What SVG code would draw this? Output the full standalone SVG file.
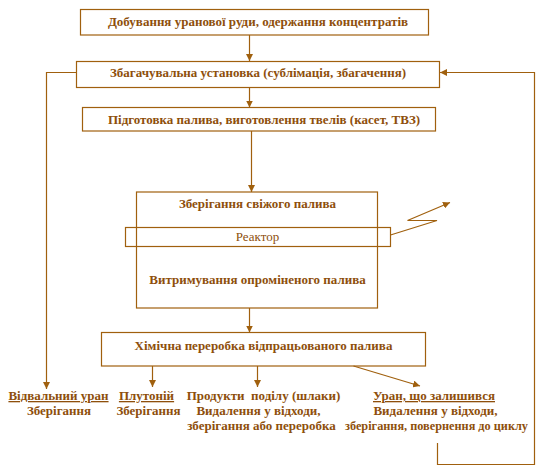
<svg xmlns="http://www.w3.org/2000/svg" width="543" height="468" viewBox="0 0 543 468">
<defs>
<style>
.box{fill:none;stroke:#A0600E;stroke-width:1.2}
.ln{fill:none;stroke:#A0600E;stroke-width:1.2}
.t{font-family:"Liberation Serif","Times New Roman",serif;font-size:13px;font-weight:bold;fill:#8E4F0C;text-anchor:middle}
.r{font-weight:normal}
.u{text-decoration:underline}
</style>
<marker id="ah" viewBox="0 0 10 10" refX="10" refY="5" markerWidth="7" markerHeight="7" markerUnits="userSpaceOnUse" orient="auto">
<path d="M0,0 L10,5 L0,10 z" fill="#A0600E"/>
</marker>
</defs>
<rect width="543" height="468" fill="#fff"/>
<g id="n1"><rect class="box" x="80.5" y="9.5" width="348" height="25.5"/><text class="t" x="258" y="26">Добування уранової руди, одержання концентратів</text></g>
<g id="n2"><rect class="box" x="76.5" y="61.5" width="363" height="26"/><text class="t" x="258" y="77">Збагачувальна установка (сублімація, збагачення)</text></g>
<g id="n3"><rect class="box" x="82.5" y="107.5" width="353" height="23.5"/><text class="t" x="264" y="124">Підготовка палива, виготовлення твелів (касет, ТВЗ)</text></g>
<g id="n4"><rect class="box" x="136.5" y="192" width="241" height="116"/><text class="t" x="257.5" y="208">Зберігання свіжого палива</text><text class="t" x="257.5" y="284">Витримування опроміненого палива</text></g>
<g id="n5"><rect class="box" x="125.5" y="227.5" width="265" height="19"/><text class="t r" x="257.5" y="241">Реактор</text></g>
<g id="n6"><rect class="box" x="101.5" y="332.5" width="324" height="33.5"/><text class="t" x="263.5" y="350">Хімічна переробка відпрацьованого палива</text></g>
<g id="n7"><text class="t u" x="58.5" y="400">Відвальний уран</text><text class="t" x="59" y="415">Зберігання</text></g>
<g id="n8"><text class="t u" x="146.5" y="400">Плутоній</text><text class="t" x="148.5" y="415">Зберігання</text></g>
<g id="n9"><text class="t" x="263.5" y="400">Продукти&#160; поділу (шлаки)</text><text class="t" x="258.5" y="415">Видалення у відходи,</text><text class="t" x="261.5" y="430">зберігання або переробка</text></g>
<g id="n10"><text class="t u" x="434" y="400">Уран, що залишився</text><text class="t" x="435.5" y="415">Видалення у відходи,</text><text class="t" x="436.5" y="430" textLength="183" lengthAdjust="spacingAndGlyphs">зберігання, повернення до циклу</text></g>
<g id="connectors">
<line class="ln" x1="249.5" y1="35" x2="249.5" y2="61" marker-end="url(#ah)"/>
<line class="ln" x1="249.5" y1="87.5" x2="249.5" y2="107.5" marker-end="url(#ah)"/>
<line class="ln" x1="251.5" y1="131" x2="251.5" y2="192" marker-end="url(#ah)"/>
<line class="ln" x1="249.5" y1="308" x2="249.5" y2="332.5" marker-end="url(#ah)"/>
<polyline class="ln" points="76.5,72.5 46.5,72.5 46.5,389" marker-end="url(#ah)"/>
<polyline class="ln" points="437.5,443 437.5,464.5 534.5,464.5 534.5,72.5 440,72.5" marker-end="url(#ah)"/>
<line class="ln" x1="152.5" y1="366" x2="152.5" y2="387" marker-end="url(#ah)"/>
<line class="ln" x1="257.5" y1="366" x2="257.5" y2="387" marker-end="url(#ah)"/>
<line class="ln" x1="353.5" y1="366" x2="420" y2="386" marker-end="url(#ah)"/>
<polyline class="ln" points="390.5,235 437,220.5 407.5,220.5 450,202.5" marker-end="url(#ah)"/>
</g>
</svg>
